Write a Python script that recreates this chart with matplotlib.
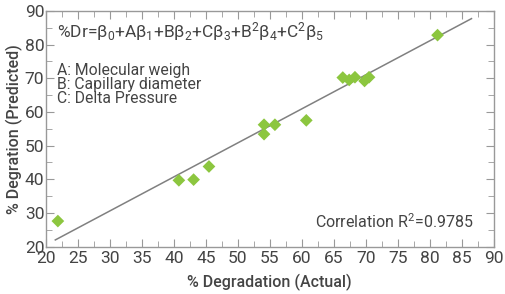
import matplotlib
matplotlib.use('Agg')
import matplotlib.pyplot as plt
from matplotlib.ticker import MultipleLocator

plt.rcParams['font.family'] = ['Roboto', 'DejaVu Sans']
plt.rcParams['mathtext.fontset'] = 'custom'
plt.rcParams['mathtext.rm'] = 'Roboto'
plt.rcParams['mathtext.default'] = 'regular'

# 实测值 / 预测值
actual = [21.9, 40.8, 43.1, 45.5, 54.1, 54.1, 55.8, 60.7,
          66.4, 67.4, 68.3, 69.8, 70.5, 81.2]
predicted = [27.6, 39.7, 39.9, 43.8, 56.2, 53.4, 56.2, 57.5,
             70.2, 69.5, 70.3, 69.2, 70.3, 82.8]

# 回归线端点
fit_x = [21.5, 86.5]
fit_y = [22.0, 87.7]

equation = '%Dr=β$_0$+Aβ$_1$+Bβ$_2$+Cβ$_3$+B$^2$β$_4$+C$^2$β$_5$'
factors = ['A: Molecular weigh', 'B: Capillary diameter', 'C: Delta Pressure']
r2_text = 'Correlation R$^2$=0.9785'

text_color = '#444444'
spine_color = '#999999'

fig = plt.figure(figsize=(5.05, 2.94), dpi=100)
ax = fig.add_axes([0.0905, 0.161, 0.8875, 0.802])

ax.plot(fit_x, fit_y, color='#808080', lw=1.1, zorder=2)
ax.scatter(actual, predicted, marker='D', s=42, color='#8cc63f',
           edgecolors='none', zorder=3)

ax.set_xlim(20, 90)
ax.set_ylim(20, 90)
ax.xaxis.set_major_locator(MultipleLocator(5))
ax.xaxis.set_minor_locator(MultipleLocator(2.5))
ax.yaxis.set_major_locator(MultipleLocator(10))
ax.yaxis.set_minor_locator(MultipleLocator(5))

ax.tick_params(which='both', direction='in', top=True, right=True,
               color=spine_color, labelcolor=text_color, labelsize=12.5)
ax.tick_params(which='major', length=6)
ax.tick_params(which='minor', length=4)
ax.tick_params(axis='x', pad=3)
ax.tick_params(axis='y', pad=1)
for s in ax.spines.values():
    s.set_color(spine_color)
    s.set_linewidth(1)

ax.set_xlabel('% Degradation (Actual)', fontsize=11.5, color=text_color,
              fontweight='medium', labelpad=6)
ax.set_ylabel('% Degration (Predicted)', fontsize=11.5, color=text_color,
              fontweight='medium', labelpad=1)

ax.text(21.7, 83.8, equation, fontsize=12.5, color=text_color, va='center')
for i, f in enumerate(factors):
    ax.text(21.7, 72.2 - i * 4.1, f, fontsize=11.3, color=text_color, va='center')
ax.text(86.8, 27.4, r2_text, fontsize=11.5, color=text_color, va='center', ha='right')

fig.savefig('out.png', dpi=100)
